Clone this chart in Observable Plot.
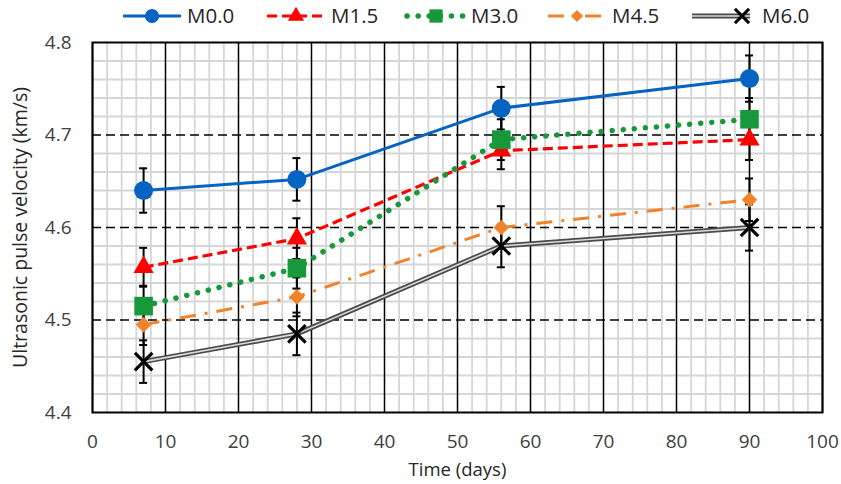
<!DOCTYPE html>
<html><head><meta charset="utf-8">
<script src="https://cdn.jsdelivr.net/npm/d3@7"></script>
<script src="https://cdn.jsdelivr.net/npm/@observablehq/plot@0.6"></script>
<style>
body{margin:0;background:#fff;font-family:"Open Sans",sans-serif}
#legend{display:block}
</style>
</head><body><div id="chart"></div>
<script>
// ---- data ----
const days = [7, 28, 56, 90];
const seriesNames = ["M0.0", "M1.5", "M3.0", "M4.5", "M6.0"];
const m00 = [4.640, 4.652, 4.729, 4.761];
const m15 = [4.557, 4.588, 4.683, 4.695];
const m30 = [4.515, 4.556, 4.695, 4.717];
const m45 = [4.495, 4.525, 4.600, 4.630];
const m60 = [4.455, 4.485, 4.580, 4.600];
const e00 = [0.024, 0.023, 0.023, 0.025];
const e15 = [0.021, 0.022, 0.020, 0.022];
const e30 = [0.022, 0.022, 0.022, 0.023];
const e45 = [0.022, 0.021, 0.023, 0.023];
const e60 = [0.023, 0.023, 0.023, 0.025];
const xTicks = [0, 10, 20, 30, 40, 50, 60, 70, 80, 90, 100];
const yTicks = [4.4, 4.5, 4.6, 4.7, 4.8];
const xLabel = "Time (days)";
const yLabel = "Ultrasonic pulse velocity (km/s)";

// ---- styles ----
const styles = [
  {color: "#0563c1", dash: null, width: 3, symbol: "circle", r: 9.5, legR: 7, cap: "butt"},
  {color: "#ff0000", dash: "10,5", width: 3.2, symbol: "triangle", r: 7.5, legR: 6, cap: "butt"},
  {color: "#17983a", dash: "0.1,11", width: 5.5, symbol: "square", r: 10.5, legR: 7.5, cap: "round"},
  {color: "#f0832c", dash: "16,9,3,9", width: 3, symbol: "diamond2", r: 7, legR: 5.5, cap: "butt"},
  {color: "#4a4a4a", dash: null, width: 5, symbol: "times", r: 8, legR: 6.5, cap: "butt"}
];
const values = [m00, m15, m30, m45, m60];
const errs = [e00, e15, e30, e45, e60];

const rows = [];
seriesNames.forEach((s, i) => days.forEach((d, j) => rows.push({s, i, x: d, y: values[i][j], e: errs[i][j]})));

const minorX = d3.range(0, 101, 2).filter(v => v % 10 !== 0);
const minorY = d3.range(0, 21).map(k => 4.4 + k * 0.02).filter((v, k) => k % 5 !== 0);

// ---- legend ----
const legendStarts = [123, 267, 407, 548, 692];
const legW = 58;
const leg = d3.create("svg").attr("id", "legend").attr("width", 841).attr("height", 30)
  .style("font-family", "'Open Sans', sans-serif");
const symMap = {circle: d3.symbolCircle, triangle: d3.symbolTriangle, square: d3.symbolSquare, diamond2: d3.symbolDiamond2, times: d3.symbolTimes};
seriesNames.forEach((name, i) => {
  const st = styles[i];
  const x0 = legendStarts[i], yc = 16;
  const g = leg.append("g");
  g.append("line").attr("x1", x0).attr("x2", x0 + legW).attr("y1", yc).attr("y2", yc)
    .attr("stroke", st.color).attr("stroke-width", st.width)
    .attr("stroke-dasharray", st.dash).attr("stroke-linecap", st.cap);
  if (i === 4) {
    g.append("line").attr("x1", x0).attr("x2", x0 + legW).attr("y1", yc).attr("y2", yc)
      .attr("stroke", "#dcdcdc").attr("stroke-width", 1.6);
  }
  const mx = i === 4 ? x0 + legW - 8 : x0 + legW / 2;
  const p = g.append("path").attr("transform", `translate(${mx},${yc})`)
    .attr("d", d3.symbol(symMap[st.symbol], Math.PI * st.legR * st.legR)());
  if (i === 4) p.attr("fill", "none").attr("stroke", "#000").attr("stroke-width", 3);
  else p.attr("fill", st.color);
  g.append("text").attr("x", x0 + legW + (i === 4 ? 12 : 6)).attr("y", yc).attr("dy", "0.35em")
    .attr("font-size", 20.5).attr("fill", "#262626").text(name);
});
document.getElementById("chart").appendChild(leg.node());

// ---- chart ----
const marks = [
  Plot.ruleX(minorX, {stroke: "#d6d6d6", strokeWidth: 1.8}),
  Plot.ruleY(minorY, {stroke: "#d6d6d6", strokeWidth: 1.8}),
  Plot.ruleX(xTicks, {stroke: "#000", strokeWidth: 1.5}),
  Plot.ruleY(yTicks.slice(1, -1), {stroke: "#000", strokeWidth: 1.5, strokeDasharray: "9,5"}),
  Plot.frame({stroke: "#000", strokeWidth: 2}),
  Plot.axisX(xTicks, {tickSize: 0, tickPadding: 22, fill: "#404040", label: null}),
  Plot.axisY(yTicks, {tickSize: 0, tickPadding: 21, fill: "#404040", label: null, tickFormat: d3.format(".1f")}),
  Plot.ruleX(rows, {x: "x", y1: d => d.y - d.e, y2: d => d.y + d.e, stroke: "#000", strokeWidth: 2}),
  Plot.ruleY(rows, {y: d => d.y - d.e, x1: d => d.x - 0.55, x2: d => d.x + 0.55, stroke: "#000", strokeWidth: 2}),
  Plot.ruleY(rows, {y: d => d.y + d.e, x1: d => d.x - 0.55, x2: d => d.x + 0.55, stroke: "#000", strokeWidth: 2})
];
seriesNames.forEach((name, i) => {
  const st = styles[i];
  const data = rows.filter(d => d.i === i);
  marks.push(Plot.line(data, {x: "x", y: "y", stroke: st.color, strokeWidth: st.width,
    strokeDasharray: st.dash, strokeLinecap: st.cap}));
  if (i === 4) marks.push(Plot.line(data, {x: "x", y: "y", stroke: "#dcdcdc", strokeWidth: 1.6}));
});
seriesNames.forEach((name, i) => {
  const st = styles[i];
  const data = rows.filter(d => d.i === i);
  if (i === 4) marks.push(Plot.dot(data, {x: "x", y: "y", symbol: "times", r: st.r, stroke: "#000", strokeWidth: 3.2}));
  else marks.push(Plot.dot(data, {x: "x", y: "y", symbol: st.symbol, r: st.r, fill: st.color, stroke: "none"}));
});
marks.push(Plot.text([xLabel], {frameAnchor: "bottom", dy: 63, fontSize: 18.5, fill: "#262626", textAnchor: "middle"}));
marks.push(Plot.text([yLabel], {frameAnchor: "left", dx: -72, rotate: -90, fontSize: 19.5, fill: "#262626", textAnchor: "middle"}));

const chart = Plot.plot({
  width: 841, height: 454,
  marginLeft: 92, marginRight: 19, marginTop: 12, marginBottom: 72,
  style: {fontFamily: "'Open Sans', sans-serif", fontSize: "19px", background: "#fff", overflow: "visible"},
  x: {domain: [0, 100], axis: null},
  y: {domain: [4.4, 4.8], axis: null},
  marks
});
document.getElementById("chart").appendChild(chart);
</script>
</body></html>
